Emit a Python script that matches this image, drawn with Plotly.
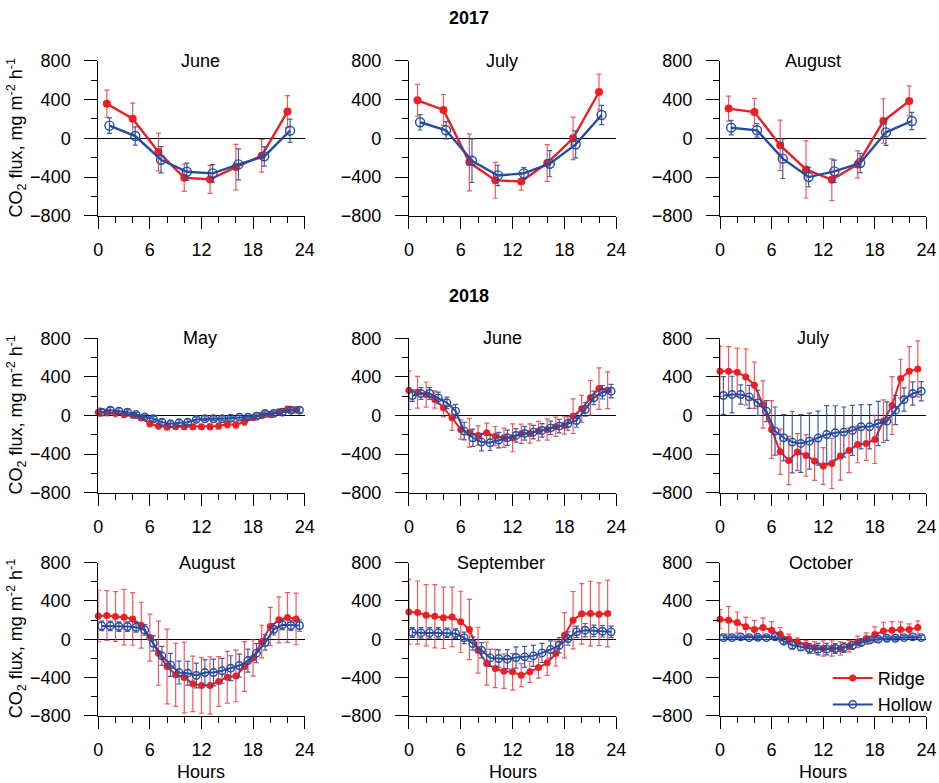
import plotly.graph_objects as go

# ---------------- data ----------------
hours_2017 = [1, 4, 7, 10, 13, 16, 19, 22]
hours_2018 = list(range(24))
hollow_dodge_2017 = 0.3
hollow_dodge_2018 = 0.4

# 2017
jun17_ridge = [358, 203, -141, -407, -424, -297, -180, 276]
jun17_ridge_err = [140, 160, 195, 140, 145, 235, 170, 165]
jun17_hollow = [131, 24, -221, -345, -362, -269, -186, 79]
jun17_hollow_err = [80, 95, 135, 90, 90, 160, 100, 120]

jul17_ridge = [393, 293, -248, -434, -445, -255, 0, 479]
jul17_ridge_err = [165, 160, 295, 185, 90, 190, 220, 185]
jul17_hollow = [166, 83, -231, -383, -362, -262, -62, 241]
jul17_hollow_err = [80, 90, 225, 105, 60, 135, 140, 100]

aug17_ridge = [307, 272, -72, -321, -428, -269, 179, 386]
aug17_ridge_err = [130, 140, 260, 295, 215, 140, 230, 155]
aug17_hollow = [110, 83, -210, -400, -341, -255, 62, 179]
aug17_hollow_err = [75, 70, 205, 100, 115, 100, 135, 90]

# 2018
may18_ridge = [34, 30, 22, 10, 3, -25, -86, -110, -120, -117, -117, -117, -117, -117, -110, -90, -95, -65, -20, 0, 10, 35, 65, 60]
may18_ridge_err = [45, 35, 35, 30, 25, 25, 30, 30, 30, 25, 25, 25, 25, 30, 30, 35, 35, 35, 30, 30, 30, 30, 30, 30]
may18_hollow = [34, 55, 45, 34, 10, -14, -34, -69, -86, -76, -69, -41, -34, -34, -34, -28, -17, -17, -7, 21, 21, 34, 55, 55]
may18_hollow_err = [30, 30, 25, 25, 20, 20, 25, 30, 30, 30, 25, 25, 20, 20, 20, 20, 20, 20, 25, 25, 25, 25, 25, 25]

jun18_ridge = [262, 241, 217, 166, 79, -24, -145, -179, -207, -179, -214, -231, -231, -190, -186, -162, -145, -117, -103, -7, 69, 183, 279, 262]
jun18_ridge_err = [200, 165, 130, 90, 90, 130, 100, 150, 100, 100, 100, 100, 145, 100, 100, 100, 110, 100, 90, 180, 140, 180, 215, 190]
jun18_hollow = [207, 228, 228, 183, 131, 45, -162, -231, -276, -283, -255, -231, -207, -186, -172, -155, -128, -110, -83, -52, 62, 183, 241, 252]
jun18_hollow_err = [60, 60, 60, 60, 60, 70, 90, 90, 90, 80, 80, 80, 70, 70, 70, 70, 70, 70, 70, 70, 70, 70, 70, 70]

jul18_ridge = [459, 459, 448, 400, 314, 114, -145, -376, -466, -379, -414, -472, -524, -497, -421, -362, -300, -290, -248, -59, 103, 383, 459, 483]
jul18_ridge_err = [260, 255, 250, 290, 240, 245, 300, 235, 250, 190, 215, 200, 190, 260, 250, 230, 190, 175, 250, 220, 300, 200, 255, 290]
jul18_hollow = [207, 217, 217, 193, 131, 45, -162, -231, -276, -290, -266, -234, -197, -179, -172, -155, -117, -117, -83, -59, 55, 166, 228, 252]
jul18_hollow_err = [195, 190, 100, 120, 130, 110, 250, 240, 320, 300, 290, 280, 300, 280, 260, 260, 230, 230, 230, 200, 150, 120, 120, 100]

aug18_ridge = [243, 247, 237, 230, 212, 146, 17, -146, -285, -372, -400, -466, -483, -483, -442, -397, -383, -285, -195, -24, 132, 202, 226, 212]
aug18_ridge_err = [270, 260, 260, 290, 275, 240, 245, 335, 390, 330, 370, 290, 290, 300, 260, 270, 270, 260, 190, 170, 200, 240, 260, 270]
aug18_hollow = [139, 139, 132, 132, 125, 97, -42, -174, -268, -348, -355, -379, -348, -348, -330, -303, -275, -223, -146, -35, 104, 150, 143, 143]
aug18_hollow_err = [50, 50, 50, 50, 50, 55, 80, 100, 120, 120, 125, 130, 135, 140, 130, 130, 120, 120, 100, 80, 60, 50, 50, 60]

sep18_ridge = [285, 278, 250, 240, 223, 233, 181, 101, -115, -254, -306, -334, -341, -376, -341, -296, -247, -150, 42, 198, 265, 268, 261, 268]
sep18_ridge_err = [340, 330, 320, 330, 320, 310, 320, 315, 240, 225, 200, 180, 190, 120, 110, 110, 130, 130, 236, 300, 316, 337, 327, 348]
sep18_hollow = [70, 66, 66, 66, 66, 59, 14, -45, -115, -195, -202, -209, -191, -184, -174, -143, -108, -63, 7, 77, 94, 87, 83, 77]
sep18_hollow_err = [50, 55, 55, 55, 50, 50, 60, 70, 80, 90, 90, 100, 110, 110, 110, 100, 90, 80, 70, 60, 70, 60, 60, 60]

oct18_ridge = [209, 198, 174, 129, 101, 122, 94, 52, 3, -28, -63, -87, -97, -97, -97, -73, -28, 7, 49, 87, 94, 101, 101, 122]
oct18_ridge_err = [100, 145, 110, 100, 95, 100, 90, 70, 50, 40, 50, 60, 80, 80, 70, 60, 60, 60, 80, 90, 90, 80, 60, 70]
oct18_hollow = [17, 17, 24, 17, 20, 17, 24, -21, -63, -80, -97, -104, -104, -97, -87, -63, -35, -10, 0, 10, 10, 17, 24, 17]
oct18_hollow_err = [20, 20, 20, 20, 20, 20, 20, 30, 40, 40, 50, 60, 60, 50, 50, 40, 30, 20, 20, 20, 20, 20, 20, 20]

x_ticks = [0, 6, 12, 18, 24]
y_ticks = [-800, -400, 0, 400, 800]

panels = [
    ("June", hours_2017, hollow_dodge_2017, jun17_ridge, jun17_ridge_err, jun17_hollow, jun17_hollow_err),
    ("July", hours_2017, hollow_dodge_2017, jul17_ridge, jul17_ridge_err, jul17_hollow, jul17_hollow_err),
    ("August", hours_2017, hollow_dodge_2017, aug17_ridge, aug17_ridge_err, aug17_hollow, aug17_hollow_err),
    ("May", hours_2018, hollow_dodge_2018, may18_ridge, may18_ridge_err, may18_hollow, may18_hollow_err),
    ("June", hours_2018, hollow_dodge_2018, jun18_ridge, jun18_ridge_err, jun18_hollow, jun18_hollow_err),
    ("July", hours_2018, hollow_dodge_2018, jul18_ridge, jul18_ridge_err, jul18_hollow, jul18_hollow_err),
    ("August", hours_2018, hollow_dodge_2018, aug18_ridge, aug18_ridge_err, aug18_hollow, aug18_hollow_err),
    ("September", hours_2018, hollow_dodge_2018, sep18_ridge, sep18_ridge_err, sep18_hollow, sep18_hollow_err),
    ("October", hours_2018, hollow_dodge_2018, oct18_ridge, oct18_ridge_err, oct18_hollow, oct18_hollow_err),
]

# ---------------- layout geometry (target pixels) ----------------
W, H = 939, 783
SX, SY = 0.981, 0.975   # compensation for observed render shrink
DX = 2                   # small horizontal nudge


def px(x):
    x = x + DX
    v = (W / 2 + (x - W / 2) / SX) / W
    return max(0.0, min(1.0, v))


def py(y):
    v = 1 - (H / 2 + (y - H / 2) / SY) / H
    return max(0.0, min(1.0, v))


col_px = [(100, 306), (410, 617), (720.5, 926.5)]
row_px = [(60.7, 215.7), (338.3, 492.7), (562.7, 716.0)]
title_x = [202, 503, 813, 202, 503, 813, 209, 502, 821]

RED = "rgb(236,32,36)"
RED_ERR = "rgba(236,32,36,0.75)"
BLUE = "rgb(38,76,160)"
BLUE_ERR = "rgba(38,76,160,0.9)"
FONT = "Arial, Liberation Sans, Helvetica, sans-serif"
FS = 18

fig = go.Figure()
layout = dict(
    width=W, height=H,
    margin=dict(l=0, r=0, t=0, b=0),
    paper_bgcolor="white", plot_bgcolor="white",
    font=dict(family=FONT, size=FS, color="black"),
    showlegend=True,
    legend=dict(x=px(828), y=py(660), xanchor="left", yanchor="top",
                bgcolor="rgba(0,0,0,0)", font=dict(size=FS), tracegroupgap=0,
                itemwidth=40),
)
annotations = []

for i, (title, hrs, dodge, r, re, h, he) in enumerate(panels):
    row, col = divmod(i, 3)
    n = i + 1
    xa = "x" if n == 1 else f"x{n}"
    ya = "y" if n == 1 else f"y{n}"
    is2017 = row == 0
    lw = 2.4 if is2017 else 2.0
    msize_r = 8 if is2017 else 7
    msize_h = 9 if is2017 else 7.5
    hx = [v + dodge for v in hrs]
    fig.add_trace(go.Scatter(
        x=hrs, y=r, xaxis=xa, yaxis=ya, mode="lines+markers", name="Ridge",
        legendgroup="ridge", showlegend=(n == 9), cliponaxis=False,
        line=dict(color=RED, width=lw),
        marker=dict(symbol="circle", size=msize_r, color=RED),
        error_y=dict(type="data", array=re, color=RED_ERR, thickness=1.2, width=2.5),
    ))
    fig.add_trace(go.Scatter(
        x=hx, y=h, xaxis=xa, yaxis=ya, mode="lines+markers", name="Hollow",
        legendgroup="hollow", showlegend=(n == 9), cliponaxis=False,
        line=dict(color=BLUE, width=lw),
        marker=dict(symbol="circle-open", size=msize_h, color=BLUE, line=dict(width=1.4, color=BLUE)),
        error_y=dict(type="data", array=he, color=BLUE_ERR, thickness=1.2, width=2.5),
    ))
    x0, x1 = col_px[col]
    y0, y1 = row_px[row]
    xkey = "xaxis" if n == 1 else f"xaxis{n}"
    ykey = "yaxis" if n == 1 else f"yaxis{n}"
    layout[xkey] = dict(
        domain=[px(x0), px(x1)], anchor=ya, range=[0, 24],
        tickvals=x_ticks, ticks="outside", ticklen=12, tickwidth=1, tickcolor="black",
        minor=dict(dtick=2, tick0=0, ticks="outside", ticklen=6, tickwidth=1, tickcolor="black"),
        showline=True, linecolor="black", linewidth=1, showgrid=False, zeroline=False,
        tickfont=dict(size=FS), ticklabelstandoff=6, fixedrange=True,
    )
    layout[ykey] = dict(
        domain=[py(y1), py(y0)], anchor=xa, range=[-800, 800],
        tickvals=y_ticks, ticks="outside", ticklen=13, tickwidth=1, tickcolor="black",
        minor=dict(dtick=200, tick0=0, ticks="outside", ticklen=6, tickwidth=1, tickcolor="black"),
        showline=True, linecolor="black", linewidth=1, showgrid=False,
        zeroline=True, zerolinecolor="black", zerolinewidth=1,
        tickfont=dict(size=FS), ticklabelstandoff=10, fixedrange=True,
    )
    annotations.append(dict(
        text=title, x=px(title_x[i]), y=py(y0), xref="paper", yref="paper",
        xanchor="center", yanchor="middle", showarrow=False, font=dict(size=FS),
    ))
    if col == 0:
        annotations.append(dict(
            text="CO<sub>2</sub> flux, mg m<sup>-2</sup> h<sup>-1</sup>",
            x=px(18), y=py((y0 + y1) / 2), xref="paper", yref="paper",
            xanchor="center", yanchor="middle", textangle=-90, showarrow=False,
            font=dict(size=FS),
        ))
    if row == 2:
        annotations.append(dict(
            text="Hours", x=px((x0 + x1) / 2), y=py(772), xref="paper", yref="paper",
            xanchor="center", yanchor="middle", showarrow=False, font=dict(size=FS),
        ))

annotations.append(dict(text="<b>2017</b>", x=px(470), y=py(18), xref="paper", yref="paper",
                        xanchor="center", yanchor="middle", showarrow=False, font=dict(size=FS)))
annotations.append(dict(text="<b>2018</b>", x=px(470), y=py(296), xref="paper", yref="paper",
                        xanchor="center", yanchor="middle", showarrow=False, font=dict(size=FS)))
layout["annotations"] = annotations

fig.update_layout(**layout)
fig.write_html(
    "out.html",
    config={"displayModeBar": False},
    post_script="document.body.style.margin='0px';document.body.style.overflow='hidden';",
)
